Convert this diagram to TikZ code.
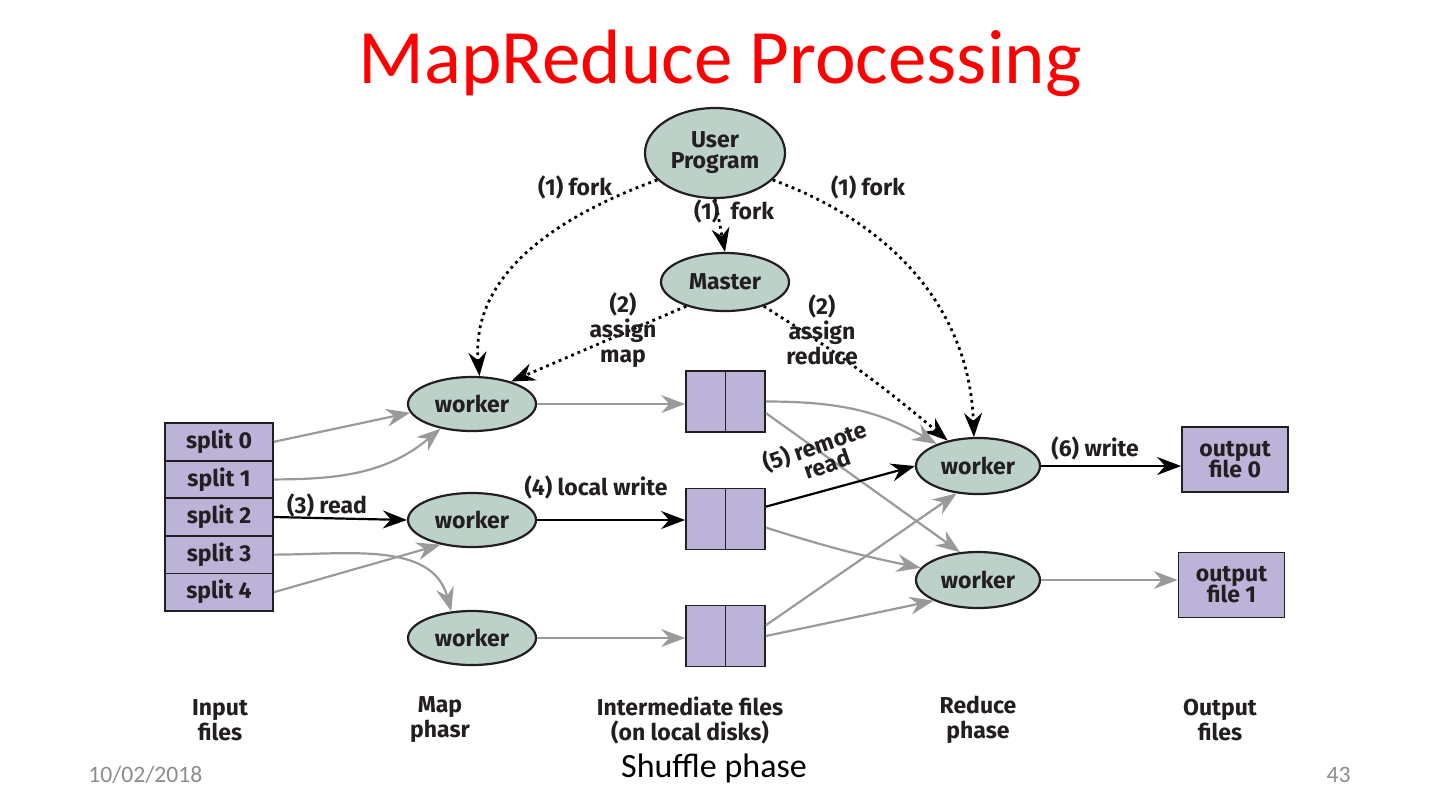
\documentclass[tikz,border=0pt]{standalone}
\usepackage{fontspec}
\setmainfont{Carlito}
\newfontfamily\dfont{Fira Sans}
\usetikzlibrary{shapes.geometric,arrows.meta}
\definecolor{ellfill}{HTML}{BCD1C8}
\definecolor{boxfill}{HTML}{BBB3D8}
\definecolor{arrgray}{HTML}{9A9A9A}
\definecolor{txt}{HTML}{231F20}
\definecolor{foot}{HTML}{8C8C8C}
\tikzset{
  dtext/.style={font=\dfont\bfseries\fontsize{11.5}{11.5}\selectfont, text=txt, align=center, inner sep=0pt},
  ell/.style={ellipse, draw=txt, line width=1.1pt, fill=ellfill, dtext},
  filebox/.style={rectangle, draw=txt, line width=0.9pt, fill=boxfill, dtext},
  tipb/.style={-{Stealth[length=12pt,width=9pt,inset=4pt]}},
  garr/.style={draw=arrgray, line width=1.1pt, -{Stealth[length=12pt,width=9pt,inset=4pt,fill=arrgray]}},
  thinarr/.style={draw=arrgray, line width=0.8pt, -{Stealth[length=12pt,width=9pt,inset=4pt,fill=arrgray]}},
  barr/.style={draw=black, line width=1.1pt, tipb},
  dotarr/.style={draw=black, line width=1.4pt, dotted, tipb},
  lbl/.style={dtext, fill=none},
}
\begin{document}
\begin{tikzpicture}[x=0.5pt,y=-0.5pt]
\useasboundingbox (0,0) rectangle (1440,811);

% title and footer
\node[anchor=base, text=red, inner sep=0pt, font=\fontsize{38.5}{40}\selectfont] (title) at (720,83) {MapReduce Processing};
\node[anchor=base, inner sep=0pt, font=\fontsize{17}{18}\selectfont] (shuffle) at (714,777) {Shuffle phase};
\node[anchor=base west, inner sep=0pt, text=foot, font=\fontsize{11.8}{12}\selectfont] (date) at (88,782) {10/02/2018};
\node[anchor=base east, inner sep=0pt, text=foot, font=\fontsize{11.8}{12}\selectfont] (page) at (1351,782) {43};

% ellipses
\node[ell, minimum width=70pt, minimum height=45pt] (up) at (715,153) {User\\[-1pt]Program};
\node[ell, minimum width=64pt, minimum height=29pt] (master) at (725,282) {Master};
\node[ell, minimum width=64pt, minimum height=27pt] (w1) at (472,404) {worker};
\node[ell, minimum width=64pt, minimum height=27pt] (w2) at (472,520) {worker};
\node[ell, minimum width=64pt, minimum height=27pt] (w3) at (472,638) {worker};
\node[ell, minimum width=62pt, minimum height=28pt] (r1) at (978,466) {worker};
\node[ell, minimum width=62pt, minimum height=28pt] (r2) at (978,580) {worker};

% splits
\foreach \i/\y in {0/441.8,1/479.4,2/517,3/554.6,4/592.2}{
  \node[filebox, minimum width=54pt, minimum height=18.8pt] (s\i) at (219,\y) {split \i};
}

% intermediate files
\foreach \i/\y in {1/401.5,2/519,3/636}{
  \node[filebox, minimum width=39.5pt, minimum height=30.5pt] (f\i) at (725.5,\y) {};
  \draw[draw=txt, line width=0.9pt] (f\i.north) -- (f\i.south);
}

% output files
\node[filebox, minimum width=53pt, minimum height=32.5pt] (o0) at (1235,459.5) {output\\[-1pt]file 0};
\node[filebox, minimum width=53pt, minimum height=32.5pt] (o1) at (1231.5,585) {output\\[-1pt]file 1};

% fork / assign
\draw[dotarr] (up.205) to[out=200,in=95] (w1.75);
\node[lbl] (lf1) at (575,187) {(1) fork};
\draw[dotarr] (up.south) -- (master.north);
\node[lbl] (lf2) at (734,211) {(1)\hspace{3pt} fork};
\draw[dotarr] (up.335) to[out=-20,in=92] (r1.98);
\node[lbl] (lf3) at (868,187) {(1) fork};
\draw[dotarr] (master.212) -- (w1.30);
\node[lbl] (la1) at (623,330) {(2)\\[1pt]assign\\[1pt]map};
\draw[dotarr] (master.-32) to[bend left=4] (r1.140);
\node[lbl] (la2) at (822,330) {(2)\\[1pt]assign\\[1pt]reduce};

% input to map
\draw[garr] (s0.east) -- (w1.188);
\draw[garr] (s1.east) to[out=0,in=-140] (w1.218);
\draw[barr] (s2.east) -- (w2.west);
\node[lbl] (lr) at (327,505) {(3) read};
\draw[garr] (s3.east) to[out=0,in=105] (w3.128);
\draw[garr] (s4.east) -- (w2.218);

% map to intermediate
\draw[thinarr] (w1.east) -- (w1.east -| f1.west);
\draw[barr] (w2.east) -- (w2.east -| f2.west);
\node[lbl] (llw) at (596,487) {(4) local write};
\draw[thinarr] (w3.east) -- (w3.east -| f3.west);

% intermediate to reduce
\draw[garr] (f1.east) to[out=0,in=150] (r1.152);
\draw[garr] (f1.-16) -- (r2.123);
\draw[barr] (f2.17) -- (r1.west);
\node[lbl, rotate=19] (lrr) at (818,455) {(5) remote\\[-1pt]\hspace*{6pt}read};
\draw[garr] (f2.-12) to[bend right=3] (r2.168);
\draw[garr] (f3.15) -- (r1.232);
\draw[garr] (f3.east) -- (r2.205);

% reduce to output
\draw[barr] (r1.east) -- (r1.east -| o0.west);
\node[lbl] (lw) at (1095,448) {(6) write};
\draw[thinarr] (r2.east) -- (r2.east -| o1.west);

% bottom labels
\node[lbl] (b1) at (220,720) {Input\\[1pt]files};
\node[lbl] (b2) at (440,720) {Map\\[1pt]phasr};
\node[lbl] (b3) at (690,720) {Intermediate files\\[1pt](on local disks)};
\node[lbl] (b4) at (978,720) {Reduce\\[1pt]phase};
\node[lbl] (b5) at (1220,720) {Output\\[1pt]files};
\end{tikzpicture}
\end{document}
